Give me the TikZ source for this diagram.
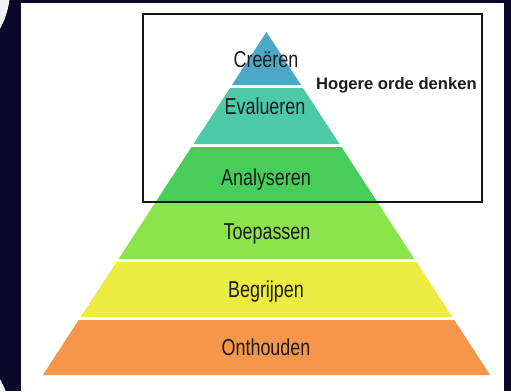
\documentclass[tikz,border=0pt]{standalone}
\usepackage{fontspec}
\setmainfont{Liberation Sans}
\definecolor{navy}{HTML}{0B0829}
\definecolor{cCre}{HTML}{4DA8C6}
\definecolor{cEva}{HTML}{4CC9A5}
\definecolor{cAna}{HTML}{46CD5A}
\definecolor{cToe}{HTML}{8CE44B}
\definecolor{cBeg}{HTML}{EBEB41}
\definecolor{cOnt}{HTML}{F5964B}
\definecolor{txt}{HTML}{1C1C1C}
\newcommand\pyrlayer[3]{%
  \fill[#3] ({266.5-0.652*(#1-32)},#1) -- ({266.5+0.652*(#1-32)},#1)
    -- ({266.5+0.652*(#2-32)},#2) -- ({266.5-0.652*(#2-32)},#2) -- cycle;}
\begin{document}
\begin{tikzpicture}[x=1pt,y=-1pt,
  lbl/.style={anchor=base,inner sep=0pt,text=txt,xscale=0.78,font=\fontsize{23}{26}\selectfont},
  note/.style={anchor=base west,inner sep=0pt,text=txt,font=\bfseries\fontsize{16.6}{19}\selectfont},
  frame/.style={draw=black!92,line width=2.2pt}]
\useasboundingbox (0,0) rectangle (511,391);
\fill[navy] (0,0) rectangle (511,391);
\fill[black!6] (-70,-10) circle[radius=80];
\fill[black!6] (-70,420) circle[radius=81];
\fill[white] (21,3) rectangle (504,391);
% pyramid
\pyrlayer{32}{85}{cCre}
\pyrlayer{88}{144}{cEva}
\pyrlayer{147}{202.5}{cAna}
\pyrlayer{202.5}{259}{cToe}
\pyrlayer{262}{317}{cBeg}
\pyrlayer{320}{375}{cOnt}
% labels
\node[lbl] (cre) at (266,67) {Creëren};
\node[lbl] (eva) at (265,114) {Evalueren};
\node[lbl] (ana) at (266,185) {Analyseren};
\node[lbl] (toe) at (267,239) {Toepassen};
\node[lbl] (beg) at (266,297.5) {Begrijpen};
\node[lbl] (ont) at (266,355) {Onthouden};
% frame
\draw[frame] (143,14) rectangle (482,202);
\node[note] (hog) at (316,89) {Hogere orde denken};
\end{tikzpicture}
\end{document}
